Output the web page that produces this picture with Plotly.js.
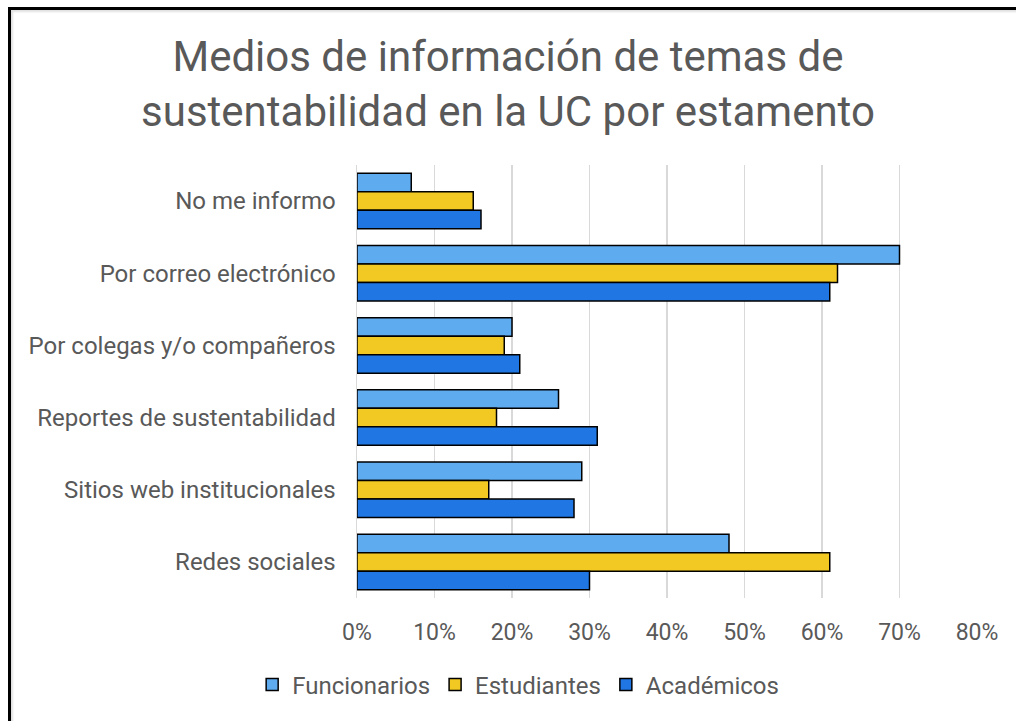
<!DOCTYPE html>
<html>
<head>
<meta charset="utf-8">
<script src="https://cdn.plot.ly/plotly-3.0.1.min.js"></script>
<style>
  html, body { margin: 0; padding: 0; background: #fff; }
  #wrap { position: relative; width: 1016px; height: 721px; overflow: hidden; }
  #chart { position: absolute; left: 0; top: 0; width: 1016px; height: 721px; }
  #frame { position: absolute; left: 8px; top: 7px; width: 1100px; height: 800px;
           border-top: 3px solid #000; border-left: 3px solid #000; pointer-events: none;
           box-shadow: inset 2px 2px 2px rgba(0,0,0,0.12); }
</style>
</head>
<body>
<div id="wrap">
  <div id="chart"></div>
  <div id="frame"></div>
</div>
<script>
const categories = [
  "No me informo",
  "Por correo electrónico",
  "Por colegas y/o compañeros",
  "Reportes de sustentabilidad",
  "Sitios web institucionales",
  "Redes sociales"
];
const funcionarios = [0.07, 0.70, 0.20, 0.26, 0.29, 0.48];
const estudiantes  = [0.15, 0.62, 0.19, 0.18, 0.17, 0.61];
const academicos   = [0.16, 0.61, 0.21, 0.31, 0.28, 0.30];
const seriesNames = ["Funcionarios", "Estudiantes", "Académicos"];
const tickVals = [0, 0.1, 0.2, 0.3, 0.4, 0.5, 0.6, 0.7, 0.8];
const tickText = ["0%", "10%", "20%", "30%", "40%", "50%", "60%", "70%", "80%"];

const colors = ["#5eabf0", "#f2c822", "#2076e3"];
const seriesVals = [funcionarios, estudiantes, academicos];

const traces = seriesVals.map((vals, i) => ({
  type: "bar",
  orientation: "h",
  name: seriesNames[i],
  y: categories,
  x: vals,
  marker: { color: colors[i], line: { color: "#000", width: 1.5 } },
  hoverinfo: "none"
}));

const layout = {
  width: 1016,
  height: 721,
  paper_bgcolor: "#fff",
  plot_bgcolor: "#fff",
  font: { family: "Roboto, 'Noto Sans', sans-serif", color: "#595959", size: 23 },
  title: {
    text: "Medios de información de temas de<br>sustentabilidad en la UC por estamento",
    font: { family: "Roboto, sans-serif", size: 42, color: "#595959" },
    x: 0.5, xref: "container", xanchor: "center",
    y: 0.9015, yref: "container", yanchor: "middle"
  },
  margin: { l: 357, r: 39, t: 165, b: 123 },
  barmode: "group",
  bargap: 0.23,
  bargroupgap: 0,
  xaxis: {
    range: [0, 0.8],
    tickvals: tickVals,
    ticktext: tickText,
    showgrid: true,
    gridcolor: "#d9d9d9",
    gridwidth: 1.5,
    zeroline: false,
    showline: false,
    ticks: "",
    ticklabelstandoff: 18,
    tickfont: { size: 23, color: "#595959" },
    fixedrange: true
  },
  yaxis: {
    type: "category",
    autorange: "reversed",
    showgrid: false,
    zeroline: false,
    showline: true,
    linecolor: "#d9d9d9",
    linewidth: 1.5,
    ticks: "",
    ticklabelstandoff: 15,
    tickfont: { size: 24, color: "#595959" },
    fixedrange: true
  },
  showlegend: true,
  legend: {
    orientation: "h",
    xref: "container", x: 0.51, xanchor: "center",
    yref: "container", y: 0.05, yanchor: "middle",
    font: { size: 24, color: "#595959" },
    traceorder: "normal",
    itemwidth: 30,
    bgcolor: "rgba(0,0,0,0)"
  }
};

Plotly.newPlot("chart", traces, layout, { displayModeBar: false, staticPlot: true });
</script>
</body>
</html>
